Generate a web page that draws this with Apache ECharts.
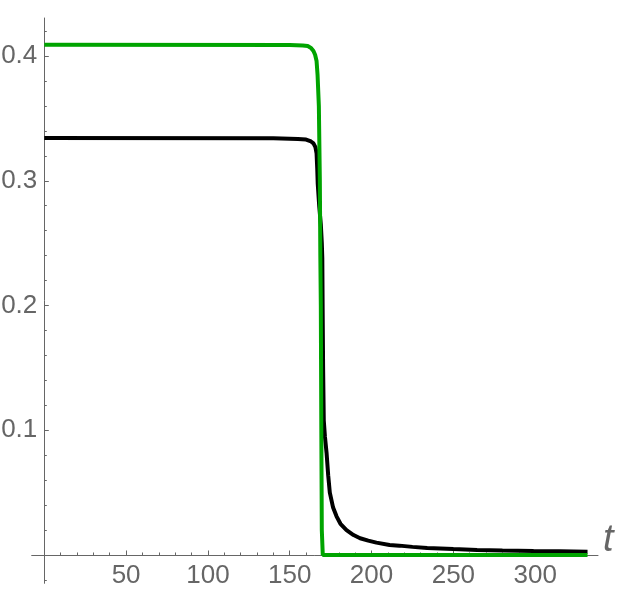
<!DOCTYPE html>
<html>
<head>
<meta charset="utf-8">
<script src="https://cdn.jsdelivr.net/npm/echarts@6/dist/echarts.min.js"></script>
<style>
html,body{margin:0;padding:0;background:#fff;}
#chart{width:624px;height:599px;}
</style>
</head>
<body>
<div id="chart"></div>
<script>
// ---- data ----
const blackT = [0, 140, 155, 160, 163, 164.5, 165.7, 166.4, 166.8, 167.1, 168, 169, 169.6, 169.9, 170.1, 170.4, 170.8, 171.5, 172.5, 173.5, 174.5, 176.5, 178.6, 181, 184.7, 189, 193, 198, 203, 211, 217, 225, 234, 250, 264.5, 280, 299, 315, 332];
const blackV = [0.3342, 0.3340, 0.3335, 0.333, 0.3315, 0.330, 0.327, 0.322, 0.31, 0.298, 0.28, 0.265, 0.25, 0.238, 0.2, 0.15, 0.108, 0.095, 0.082, 0.064, 0.05, 0.038, 0.031, 0.025, 0.02, 0.016, 0.0134, 0.0115, 0.0099, 0.008, 0.0075, 0.0065, 0.0056, 0.0047, 0.004, 0.0036, 0.0032, 0.0029, 0.0026];
const greenT = [0, 150, 158, 161, 163, 164.5, 165.5, 166.4, 167, 167.8, 168.4, 168.7, 169, 169.3, 169.6, 170.2, 332];
const greenV = [0.409, 0.4088, 0.4085, 0.408, 0.4065, 0.404, 0.401, 0.396, 0.385, 0.36, 0.3, 0.24, 0.2, 0.1, 0.02, 0, 0];

const xMajorTicks = [50, 100, 150, 200, 250, 300];
const xMinorTicks = [10, 20, 30, 40, 60, 70, 80, 90, 110, 120, 130, 140, 160, 170, 180, 190, 210, 220, 230, 240, 260, 270, 280, 290, 310, 320, 330];
const yMajorTicks = [0.1, 0.2, 0.3, 0.4];
const yMinorTicks = [-0.02, 0.02, 0.04, 0.06, 0.08, 0.12, 0.14, 0.16, 0.18, 0.22, 0.24, 0.26, 0.28, 0.32, 0.34, 0.36, 0.38, 0.42];
const xName = 't';

const X_MIN = -7.7, X_MAX = 338.4, Y_MIN = -0.0227, Y_MAX = 0.4305;

const zip = (a, b) => a.map((v, i) => [v, b[i]]);
const axisColor = '#666666';
const labelStyle = {color: '#666666', fontSize: 26, fontFamily: 'Liberation Sans, Arial, sans-serif'};

const chart = echarts.init(document.getElementById('chart'), null, {renderer: 'canvas'});
chart.setOption({
  animation: false,
  backgroundColor: '#ffffff',
  grid: [
    // full plot region (axes cross at the origin)
    {left: 31.7, right: 26, top: 18, bottom: 15.7, containLabel: false, outerBoundsMode: 'none'},
    // region whose edges sit on the zero lines, used for tick labels
    {left: 44.3, right: 26, top: 18, bottom: 44, containLabel: false, outerBoundsMode: 'none'}
  ],
  xAxis: [
    {
      gridIndex: 0, type: 'value', min: X_MIN, max: X_MAX, position: 'bottom',
      axisLine: {show: true, onZero: true, onZeroAxisIndex: 0, lineStyle: {color: axisColor, width: 1}},
      axisTick: {show: true, inside: true, length: 4.5, customValues: xMajorTicks, lineStyle: {color: axisColor}},
      axisLabel: {show: false},
      splitLine: {show: false}
    },
    {
      gridIndex: 0, type: 'value', min: X_MIN, max: X_MAX, position: 'bottom',
      axisLine: {show: false, onZero: true, onZeroAxisIndex: 0},
      axisTick: {show: true, inside: true, length: 2.5, customValues: xMinorTicks, lineStyle: {color: axisColor}},
      axisLabel: {show: false},
      splitLine: {show: false}
    },
    {
      gridIndex: 1, type: 'value', min: 0, max: X_MAX, position: 'bottom',
      axisLine: {show: false, onZero: false},
      axisTick: {show: false},
      axisLabel: {show: true, customValues: xMajorTicks, margin: 8, ...labelStyle},
      splitLine: {show: false}
    }
  ],
  yAxis: [
    {
      gridIndex: 0, type: 'value', min: Y_MIN, max: Y_MAX, position: 'left',
      axisLine: {show: true, onZero: true, onZeroAxisIndex: 0, lineStyle: {color: axisColor, width: 1}},
      axisTick: {show: true, inside: true, length: 4.5, customValues: yMajorTicks, lineStyle: {color: axisColor}},
      axisLabel: {show: false},
      splitLine: {show: false}
    },
    {
      gridIndex: 0, type: 'value', min: Y_MIN, max: Y_MAX, position: 'left',
      axisLine: {show: false, onZero: true, onZeroAxisIndex: 0},
      axisTick: {show: true, inside: true, length: 2.5, customValues: yMinorTicks, lineStyle: {color: axisColor}},
      axisLabel: {show: false},
      splitLine: {show: false}
    },
    {
      gridIndex: 1, type: 'value', min: 0, max: Y_MAX, position: 'left',
      axisLine: {show: false, onZero: false},
      axisTick: {show: false},
      axisLabel: {show: true, customValues: yMajorTicks, margin: 7, formatter: v => String(Math.round(v * 10) / 10), ...labelStyle},
      splitLine: {show: false}
    }
  ],
  graphic: [{
    type: 'text', left: 603, top: 521,
    style: {text: xName, fill: '#666666', font: 'italic 38px "Liberation Sans", Arial, sans-serif'}
  }],
  series: [
    {
      type: 'line', xAxisIndex: 0, yAxisIndex: 0, data: zip(blackT, blackV),
      showSymbol: false, symbol: 'none', smooth: false,
      lineStyle: {color: '#000000', width: 4}, z: 3
    },
    {
      type: 'line', xAxisIndex: 0, yAxisIndex: 0, data: zip(greenT, greenV),
      showSymbol: false, symbol: 'none', smooth: false,
      lineStyle: {color: '#00a400', width: 4}, z: 4
    }
  ]
});
</script>
</body>
</html>
